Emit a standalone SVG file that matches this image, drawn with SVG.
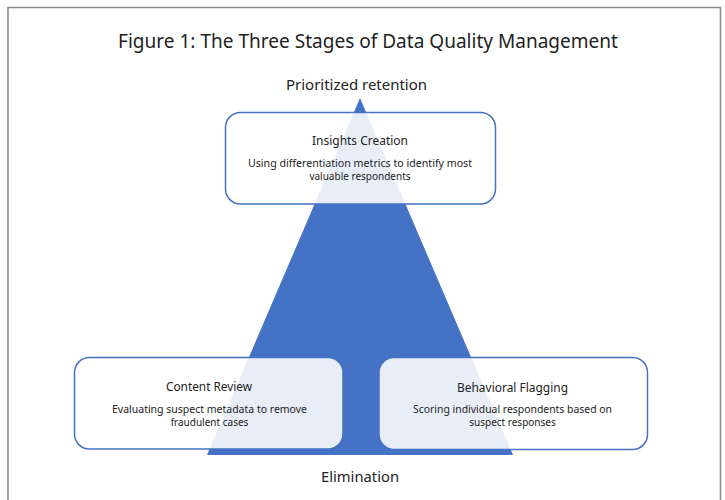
<svg xmlns="http://www.w3.org/2000/svg" width="725" height="500" viewBox="0 0 725 500">
  <style>
    text { font-family: "Noto Sans", "DejaVu Sans", sans-serif; fill: #222222; text-anchor: middle; }
    .title { font-size: 20px; }
    .axis { font-size: 15px; }
    .head { font-size: 12.5px; }
    .desc { font-size: 10px; }
    .box { fill: #ffffff; fill-opacity: 0.88; stroke: #4472C4; stroke-width: 1.5; }
  </style>
  <rect width="725" height="500" fill="#ffffff"/>
  <!-- outer frame, open at the bottom -->
  <path d="M8 505 V7.5 H720.5 V505" fill="none" stroke="#8c8c8c" stroke-width="1.6"/>

  <text class="title" x="368" y="48" textLength="500" lengthAdjust="spacingAndGlyphs">Figure 1: The Three Stages of Data Quality Management</text>
  <text class="axis" x="356.5" y="90" textLength="141" lengthAdjust="spacingAndGlyphs">Prioritized retention</text>

  <!-- pyramid -->
  <g id="connectors">
    <polygon points="360,98 207,455 513,455" fill="#4472C4"/>
  </g>

  <g id="insights">
    <rect class="box" x="225.5" y="112.5" width="270" height="91.5" rx="15"/>
    <text class="head" x="360" y="145" textLength="96" lengthAdjust="spacingAndGlyphs">Insights Creation</text>
    <text class="desc" x="360" y="166.5" textLength="224" lengthAdjust="spacingAndGlyphs">Using differentiation metrics to identify most</text>
    <text class="desc" x="360" y="179.5">valuable respondents</text>
  </g>

  <g id="content">
    <rect class="box" x="74.5" y="357.5" width="268.5" height="91.5" rx="15"/>
    <text class="head" x="209" y="391" textLength="86" lengthAdjust="spacingAndGlyphs">Content Review</text>
    <text class="desc" x="209.5" y="412.5" textLength="195" lengthAdjust="spacingAndGlyphs">Evaluating suspect metadata to remove</text>
    <text class="desc" x="209.5" y="425.5">fraudulent cases</text>
  </g>

  <g id="behavioral">
    <rect class="box" x="379" y="357.5" width="268.5" height="92" rx="15"/>
    <text class="head" x="512.5" y="392" textLength="111" lengthAdjust="spacingAndGlyphs">Behavioral Flagging</text>
    <text class="desc" x="512.5" y="412.5" textLength="199" lengthAdjust="spacingAndGlyphs">Scoring individual respondents based on</text>
    <text class="desc" x="512.5" y="425.5">suspect responses</text>
  </g>

  <text class="axis" x="360" y="482" textLength="78" lengthAdjust="spacingAndGlyphs">Elimination</text>
</svg>
